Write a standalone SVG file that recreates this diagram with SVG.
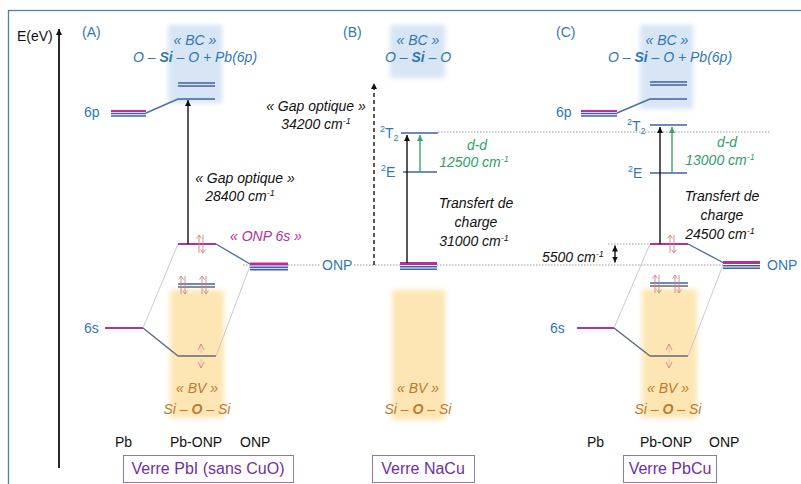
<svg xmlns="http://www.w3.org/2000/svg" width="801" height="484" viewBox="0 0 801 484">
<style>
text{font-family:"Liberation Sans",Arial,sans-serif;font-size:14px;}
.blue{fill:#2f78b4;}
.it{font-style:italic;}
.blk{fill:#111;}
.mag{fill:#b4309c;}
.grn{fill:#2f9e68;}
.org{fill:#c0792c;}
.pur{fill:#7030a0;font-size:16px;}
.lv{stroke:#3f62a0;stroke-width:1.6;fill:none;}
.lvm{stroke:#b4309c;stroke-width:2;fill:none;}
.lvmt{stroke:#b4309c;stroke-width:3;fill:none;}
.lvg{stroke:#5c6780;stroke-width:1.6;fill:none;}
.cn{stroke:#4a6fa5;stroke-width:1.4;fill:none;}
.cng{stroke:#5c6780;stroke-width:1.4;fill:none;}
.cor{stroke:#b9bccb;stroke-width:0.8;fill:none;}
.dot{stroke:#9a9a9a;stroke-width:1;stroke-dasharray:1.5,1.5;fill:none;}
.arr{stroke:#111;stroke-width:1.4;fill:none;}
.garr{stroke:#3aa66a;stroke-width:1.4;fill:none;}
.spin{stroke:#cf8585;stroke-width:0.9;fill:none;}
.bc{fill:#d7e5f5;}
.bv{fill:#fde6b4;}
.box{fill:#fff;stroke:#8a7aa4;stroke-width:1;}
</style>
<defs>
<filter id="soft" x="-30%" y="-30%" width="160%" height="160%"><feGaussianBlur stdDeviation="2.5"/></filter>
<marker id="ah" markerUnits="userSpaceOnUse" markerWidth="7" markerHeight="7" refX="6" refY="3" orient="auto-start-reverse"><path d="M0,0 L6,3 L0,6 z" fill="#111"/></marker>
<marker id="ahg" markerUnits="userSpaceOnUse" markerWidth="7" markerHeight="7" refX="6" refY="3" orient="auto"><path d="M0,0 L6,3 L0,6 z" fill="#3aa66a"/></marker>
<g id="spinpair" class="spin"><path d="M-2 9 V-9 M-4.5 -5.5 L-2 -9 L0.5 -5.5"/><path d="M2 -9 V9 M-0.5 5.5 L2 9 L4.5 5.5"/></g>
<g id="spinsplit" class="spin"><path d="M-3 -6 L0 -12 L3 -6"/><path d="M-3 6 L0 12 L3 6"/><path d="M0 -12 V-3 M0 3 V12" stroke-opacity="0.4"/></g>
</defs>

<rect x="8.5" y="10.5" width="800" height="480" fill="none" stroke="#4f7fa8" stroke-width="1.3"/>

<g id="axis">
<line x1="59" y1="468" x2="59" y2="29" stroke="#111" stroke-width="1.8" marker-end="url(#ah)"/>
<text x="17" y="41" class="blk">E(eV)</text>
</g>

<!-- Panel A -->
<g id="panelA">
<text x="82" y="37" class="blue">(A)</text>
<rect class="bc" x="168" y="25" width="54" height="78" filter="url(#soft)"/>
<rect class="bv" x="170" y="290" width="54" height="128" filter="url(#soft)"/>
<text x="195" y="45" text-anchor="middle" class="blue it">« BC »</text>
<text x="195" y="62" text-anchor="middle" class="blue it">O – <tspan font-weight="bold">Si</tspan> – O + Pb(6p)</text>
<g id="A-bc-levels"><path class="lv" d="M178 83 H215 M178 86 H215 M178 99 H215"/></g>
<g id="A-6p"><text x="84" y="117" class="blue" font-size="15">6p</text>
<path class="lvm" d="M111 111 H146"/><path class="lv" d="M111 113.5 H146 M111 116 H146"/></g>
<g id="A-onp6s"><path class="lvm" d="M178 244 H216"/><use href="#spinpair" x="201" y="244"/>
<text x="230" y="241" class="mag it">« ONP 6s »</text></g>
<g id="A-onp"><path class="lvmt" d="M250 264 H288"/><path class="lv" d="M250 267.3 H288 M250 269.6 H288" stroke-width="1.2"/>
<text x="322" y="270" class="blue">ONP</text></g>
<g id="A-mid"><path class="lv" d="M178 284 H215"/><path class="lvg" d="M178 287 H215"/>
<use href="#spinpair" x="183" y="285"/><use href="#spinpair" x="204" y="285"/></g>
<g id="A-6s"><text x="84" y="333" class="blue" font-size="15">6s</text><path class="lvm" d="M105 328 H143"/></g>
<g id="A-low"><path class="lvg" d="M178 356 H216"/><use href="#spinsplit" x="201" y="356"/></g>
<text x="197" y="393" text-anchor="middle" class="org it">« BV »</text>
<text x="197" y="414" text-anchor="middle" class="org it">Si – <tspan font-weight="bold">O</tspan> – Si</text>
<text x="197" y="183" text-anchor="middle" dx="48" class="blk it">« Gap optique »</text>
<text x="240" y="201" text-anchor="middle" class="blk it">28400 cm<tspan font-size="9" dy="-5">-1</tspan></text>
<text x="115" y="447" class="blk">Pb</text>
<text x="170" y="447" class="blk">Pb-ONP</text>
<text x="240" y="447" class="blk">ONP</text>
<rect class="box" x="123.5" y="455.5" width="170" height="27"/>
<text x="208" y="474" text-anchor="middle" class="pur">Verre PbI (sans CuO)</text>
</g>

<!-- Panel B -->
<g id="panelB">
<text x="343" y="37" class="blue">(B)</text>
<rect class="bc" x="390" y="25" width="55" height="53" filter="url(#soft)"/>
<rect class="bv" x="392" y="290" width="53" height="130" filter="url(#soft)"/>
<text x="418" y="45" text-anchor="middle" class="blue it">« BC »</text>
<text x="418" y="62" text-anchor="middle" class="blue it">O – <tspan font-weight="bold">Si</tspan> – O</text>
<text x="316" y="111" text-anchor="middle" class="blk it">« Gap optique »</text>
<text x="316" y="129" text-anchor="middle" class="blk it">34200 cm<tspan font-size="9" dy="-5">-1</tspan></text>
<g id="B-T2"><path class="lv" d="M401 133 H438"/><text x="380" y="138" class="blue"><tspan font-size="9" dy="-6">2</tspan><tspan dy="6">T</tspan><tspan font-size="9" dy="3">2</tspan></text></g>
<g id="B-E"><path class="lv" d="M403 172 H437"/><text x="381" y="177" class="blue"><tspan font-size="9" dy="-6">2</tspan><tspan dy="6">E</tspan></text></g>
<text x="477" y="150" text-anchor="middle" class="grn it">d-d</text>
<text x="474" y="167" text-anchor="middle" class="grn it">12500 cm<tspan font-size="9" dy="-5">-1</tspan></text>
<text x="476" y="208" text-anchor="middle" class="blk it">Transfert de</text>
<text x="476" y="227" text-anchor="middle" class="blk it">charge</text>
<text x="474" y="246" text-anchor="middle" class="blk it">31000 cm<tspan font-size="9" dy="-5">-1</tspan></text>
<g id="B-onp"><path class="lvmt" d="M400 263.5 H437"/><path class="lv" d="M400 266.8 H437 M400 269.2 H437" stroke-width="1.2"/></g>
<text x="418" y="393" text-anchor="middle" class="org it">« BV »</text>
<text x="418" y="414" text-anchor="middle" class="org it">Si – <tspan font-weight="bold">O</tspan> – Si</text>
<rect class="box" x="372.5" y="455.5" width="102" height="27"/>
<text x="423" y="474" text-anchor="middle" class="pur">Verre NaCu</text>
</g>

<!-- Panel C -->
<g id="panelC">
<text x="556" y="37" class="blue">(C)</text>
<rect class="bc" x="640" y="25" width="53" height="84" filter="url(#soft)"/>
<rect class="bv" x="642" y="289" width="55" height="129" filter="url(#soft)"/>
<text x="667" y="45" text-anchor="middle" class="blue it">« BC »</text>
<text x="670" y="62" text-anchor="middle" class="blue it">O – <tspan font-weight="bold">Si</tspan> – O + Pb(6p)</text>
<g id="C-bc-levels"><path class="lv" d="M650 82 H687 M650 85 H687 M650 99 H687"/></g>
<g id="C-6p"><text x="556" y="117" class="blue" font-size="15">6p</text>
<path class="lvm" d="M581 111 H617"/><path class="lv" d="M581 113.5 H617 M581 116 H617"/></g>
<g id="C-T2"><path class="lv" d="M650 125 H687"/><text x="627" y="131" class="blue"><tspan font-size="9" dy="-6">2</tspan><tspan dy="6">T</tspan><tspan font-size="9" dy="3">2</tspan></text></g>
<g id="C-E"><path class="lv" d="M650 173 H687"/><text x="628" y="178" class="blue"><tspan font-size="9" dy="-6">2</tspan><tspan dy="6">E</tspan></text></g>
<text x="727" y="147" text-anchor="middle" class="grn it">d-d</text>
<text x="720" y="165" text-anchor="middle" class="grn it">13000 cm<tspan font-size="9" dy="-5">-1</tspan></text>
<text x="722" y="201" text-anchor="middle" class="blk it">Transfert de</text>
<text x="722" y="220" text-anchor="middle" class="blk it">charge</text>
<text x="720" y="239" text-anchor="middle" class="blk it">24500 cm<tspan font-size="9" dy="-5">-1</tspan></text>
<g id="C-onp6s"><path class="lvm" d="M650 244 H688"/><use href="#spinpair" x="672" y="244"/></g>
<text x="542" y="262" class="blk it">5500 cm<tspan font-size="9" dy="-5">-1</tspan></text>
<g id="C-onp"><path class="lvmt" d="M723 262.5 H760"/><path class="lv" d="M723 265.8 H760 M723 268.2 H760" stroke-width="1.2"/>
<text x="767" y="270" class="blue">ONP</text></g>
<g id="C-mid"><path class="lv" d="M650 283 H688"/><path class="lvg" d="M650 286 H688"/>
<use href="#spinpair" x="657" y="284"/><use href="#spinpair" x="677" y="284"/></g>
<g id="C-6s"><text x="550" y="333" class="blue" font-size="15">6s</text><path class="lvm" d="M577 328 H614"/></g>
<g id="C-low"><path class="lvg" d="M650 356 H688"/><use href="#spinsplit" x="669" y="356"/></g>
<text x="668" y="393" text-anchor="middle" class="org it">« BV »</text>
<text x="668" y="414" text-anchor="middle" class="org it">Si – <tspan font-weight="bold">O</tspan> – Si</text>
<text x="587" y="447" class="blk">Pb</text>
<text x="640" y="447" class="blk">Pb-ONP</text>
<text x="709" y="447" class="blk">ONP</text>
<rect class="box" x="623.5" y="455.5" width="93" height="27"/>
<text x="670" y="474" text-anchor="middle" class="pur">Verre PbCu</text>
</g>

<!-- Connectors -->
<g id="connectors">
<path class="cor" d="M143 328 L178 244 M250 266 L216 356"/>
<path class="cor" d="M614 328 L650 244 M723 265 L688 356"/>
<path class="cn" d="M146 113 L178 99"/>
<path class="cn" d="M216 244 L250 264"/>
<path class="cng" d="M143 328 L178 356"/>
<path class="cn" d="M617 113 L650 99"/>
<path class="cn" d="M688 244 L723 262.5"/>
<path class="cng" d="M614 328 L650 356"/>
<path class="dot" d="M243 265 H250 M288 265 H320 M354 265 H400 M437 265 H723"/>
<path class="dot" d="M438 132 H770"/>
<path class="dot" d="M608 244 H650"/>
<line class="arr" x1="188" y1="244" x2="188" y2="100" marker-end="url(#ah)"/>
<line class="arr" x1="374" y1="265" x2="374" y2="83" stroke-dasharray="4,3" marker-end="url(#ah)"/>
<line class="arr" x1="407" y1="263" x2="407" y2="135" marker-end="url(#ah)"/>
<line class="garr" x1="420" y1="172" x2="420" y2="135" marker-end="url(#ahg)"/>
<line class="arr" x1="660" y1="244" x2="660" y2="127" marker-end="url(#ah)"/>
<line class="garr" x1="672" y1="173" x2="672" y2="127" marker-end="url(#ahg)"/>
<line class="arr" x1="615" y1="245.5" x2="615" y2="262.5" stroke-width="1.2" marker-start="url(#ah)" marker-end="url(#ah)"/>
</g>
</svg>
